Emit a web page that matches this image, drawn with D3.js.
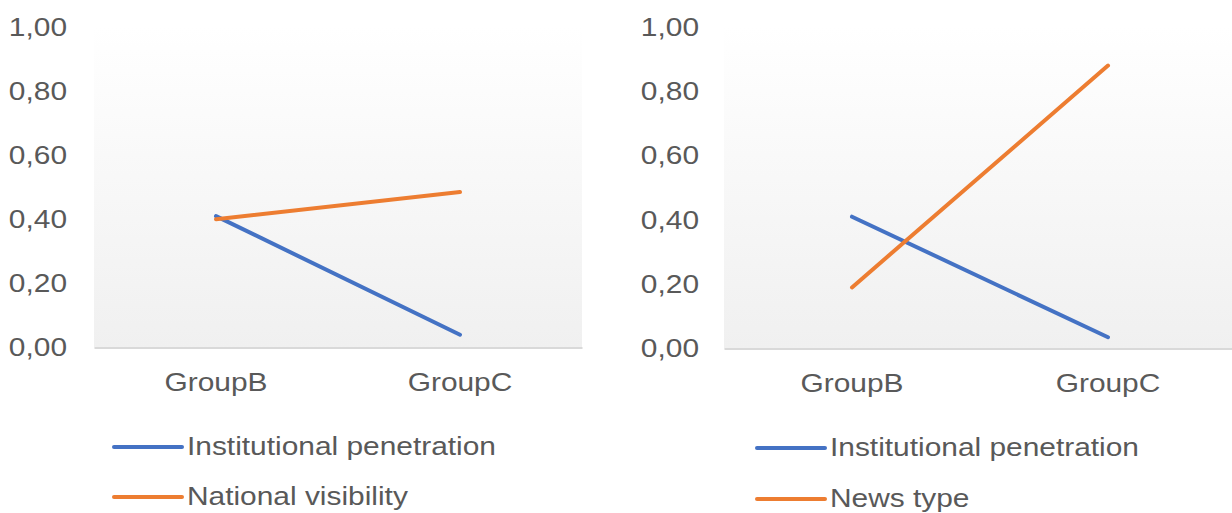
<!DOCTYPE html>
<html>
<head>
<meta charset="utf-8">
<script src="https://cdn.jsdelivr.net/npm/d3@7"></script>
<style>
  html, body { margin: 0; padding: 0; background: #fff; }
  svg { display: block; }
  text { font-family: "Liberation Sans", Arial, sans-serif; fill: #595959; }
  .wide { transform-box: fill-box; transform: scaleX(1.15); }
  .wide.end { transform-origin: right center; }
  .wide.mid { transform-origin: center center; }
  .wide.start { transform-origin: left center; }
</style>
</head>
<body>
<svg id="chart" width="1232" height="513"></svg>
<script>
// Categories and series
const categories = ["GroupB", "GroupC"];
const yTicks = [0, 0.2, 0.4, 0.6, 0.8, 1.0];

const leftSeriesNames = ["Institutional penetration", "National visibility"];
const leftInstitutional = [0.41, 0.04];
const leftNational = [0.40, 0.485];

const rightSeriesNames = ["Institutional penetration", "News type"];
const rightInstitutional = [0.41, 0.035];
const rightNews = [0.19, 0.88];

const colors = ["#4472C4", "#ED7D31"];

const svg = d3.select("#chart");
const defs = svg.append("defs");
const grad = defs.append("linearGradient")
  .attr("id", "plotBg").attr("x1", 0).attr("y1", 0).attr("x2", 0).attr("y2", 1);
grad.append("stop").attr("offset", "0%").attr("stop-color", "#ffffff");
grad.append("stop").attr("offset", "100%").attr("stop-color", "#f0f0f0");

const fmt = v => d3.format(".2f")(v).replace(".", ",");

function panel(cfg) {
  const y = d3.scaleLinear().domain([0, 1]).range([cfg.bottom, cfg.top]);
  const x = d3.scaleBand().domain(categories).range([cfg.left, cfg.right]).padding(0);
  const cx = c => x(c) + x.bandwidth() / 2;
  const g = svg.append("g");

  // plot area background
  g.append("rect")
    .attr("x", cfg.left).attr("y", cfg.top)
    .attr("width", cfg.right - cfg.left).attr("height", cfg.bottom - cfg.top)
    .attr("fill", "url(#plotBg)");

  // y axis labels
  const yAxis = d3.axisLeft(y).tickValues(yTicks).tickFormat(fmt)
    .tickSize(0).tickPadding(cfg.labelPad);
  const ya = g.append("g").attr("transform", `translate(${cfg.left},0)`).call(yAxis);
  ya.select(".domain").remove();
  ya.selectAll("text").attr("font-size", 26).style("font-family", null)
    .attr("fill", "#595959").attr("class", "wide end");

  // x axis line and labels
  const xAxis = d3.axisBottom(x).tickSize(0).tickPadding(25);
  const xa = g.append("g").attr("transform", `translate(0,${cfg.bottom})`).call(xAxis);
  xa.select(".domain").attr("stroke", "#d9d9d9").attr("stroke-width", 2);
  xa.selectAll("text").attr("font-size", 26).style("font-family", null)
    .attr("fill", "#595959").attr("class", "wide mid");

  // series lines
  const line = d3.line().x((d, i) => cx(categories[i])).y(d => y(d));
  cfg.series.forEach((s, i) => {
    g.append("path").datum(s)
      .attr("d", line)
      .attr("fill", "none")
      .attr("stroke", colors[i])
      .attr("stroke-width", 4)
      .attr("stroke-linecap", "round")
      .attr("stroke-linejoin", "round");
  });

  // legend
  cfg.names.forEach((name, i) => {
    const ly = cfg.legendY[i];
    g.append("line")
      .attr("x1", cfg.legendX).attr("x2", cfg.legendX + 68)
      .attr("y1", ly).attr("y2", ly)
      .attr("stroke", colors[i]).attr("stroke-width", 4)
      .attr("stroke-linecap", "round");
    g.append("text")
      .attr("x", cfg.legendX + 73).attr("y", ly + 8.5)
      .attr("font-size", 26)
      .attr("class", "wide start")
      .text(name);
  });
}

panel({
  left: 94, right: 582, top: 27, bottom: 347.5, labelPad: 27,
  series: [leftInstitutional, leftNational],
  names: leftSeriesNames,
  legendX: 114, legendY: [447, 497]
});

panel({
  left: 724, right: 1236, top: 27, bottom: 348.5, labelPad: 25,
  series: [rightInstitutional, rightNews],
  names: rightSeriesNames,
  legendX: 757, legendY: [448, 499]
});
</script>
</body>
</html>
